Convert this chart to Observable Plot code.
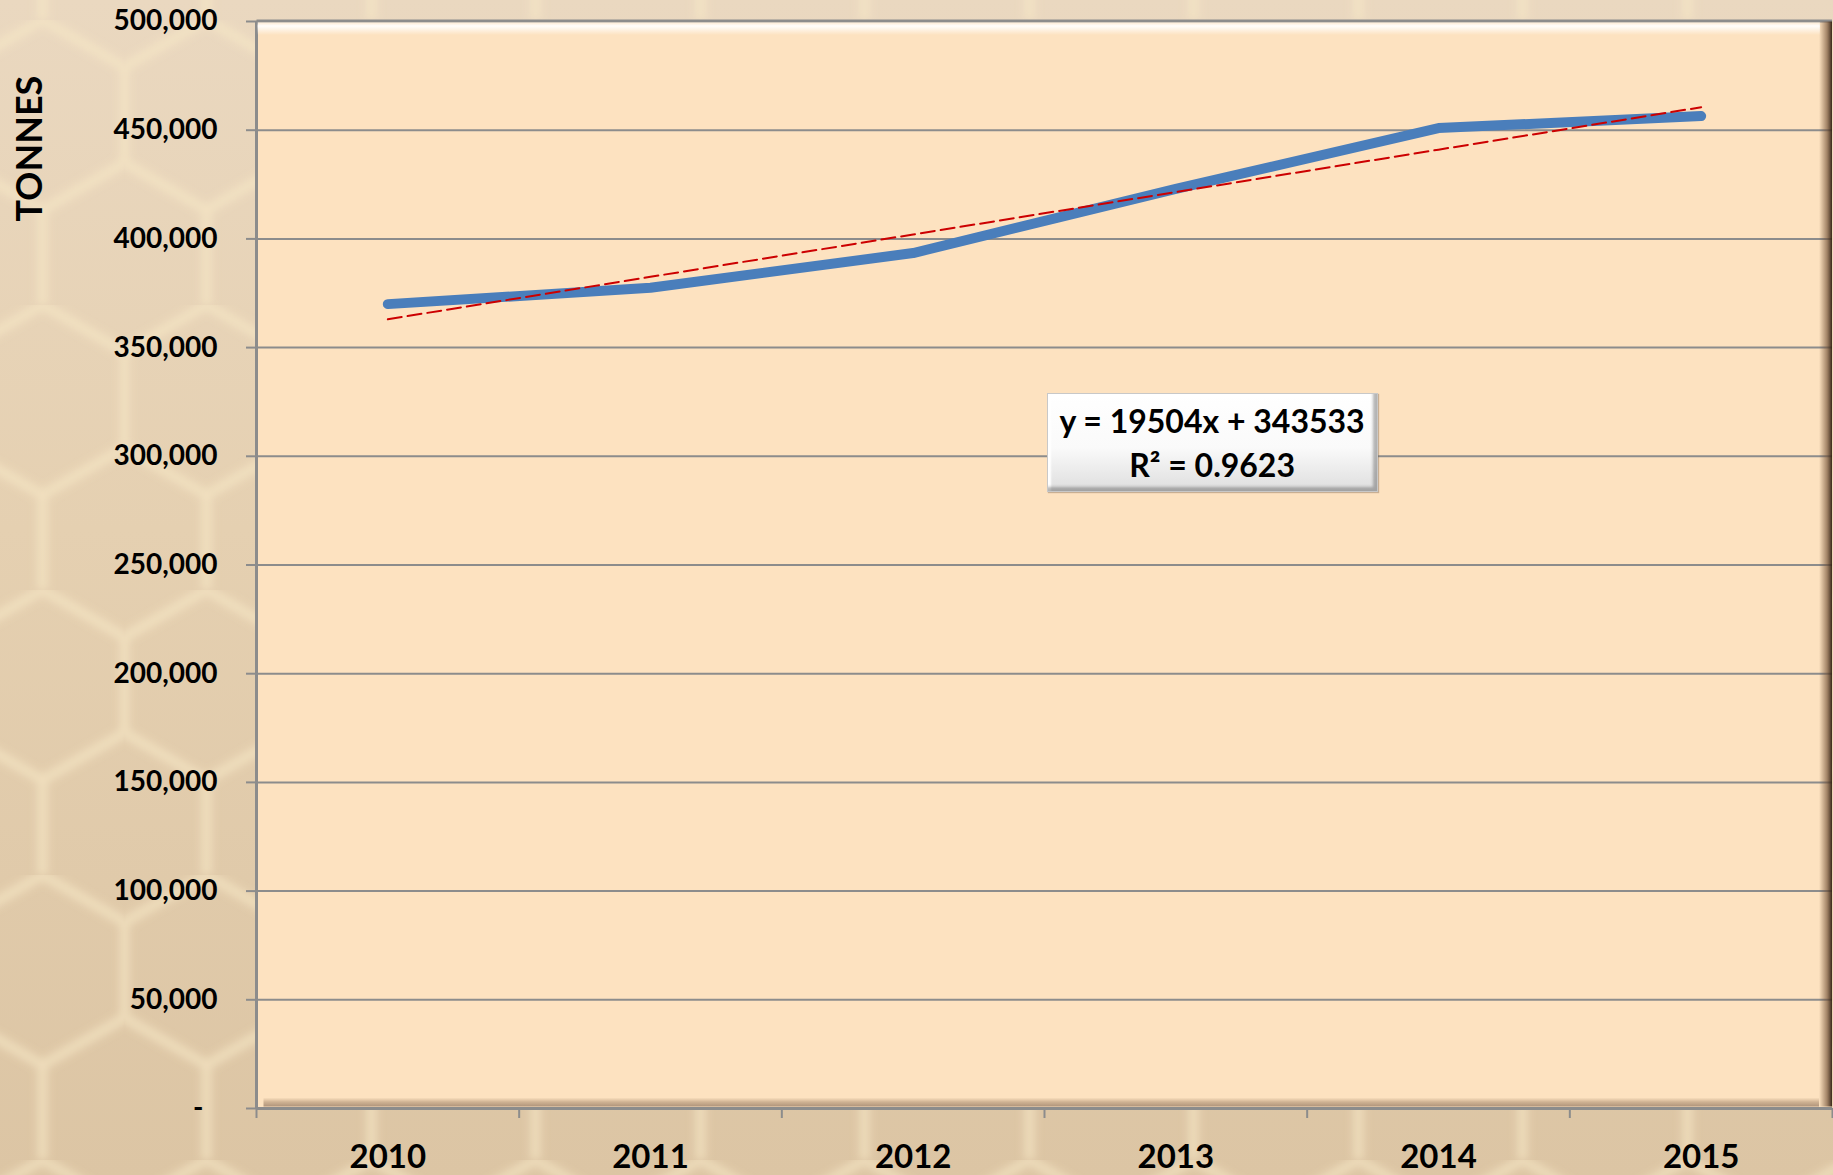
<!DOCTYPE html>
<html>
<head>
<meta charset="utf-8">
<script src="https://cdn.jsdelivr.net/npm/d3@7"></script>
<script src="https://cdn.jsdelivr.net/npm/@observablehq/plot@0.6"></script>
<style>
  html, body { margin: 0; padding: 0; }
  body {
    width: 1833px; height: 1175px; overflow: hidden;
    background-color: #e3cdae;
  }
  #wrap {
    position: relative; width: 1833px; height: 1175px;
    background-image:
      url("data:image/svg+xml;utf8,<svg xmlns='http://www.w3.org/2000/svg' width='164.5' height='285'><defs><filter id='b'><feGaussianBlur stdDeviation='4'/></filter></defs><path d='M82.25,0 L164.5,47.5 L164.5,142.5 L82.25,190 L0,142.5 L0,47.5 Z M82.25,190 L82.25,285' fill='none' stroke='%23f8e8c6' stroke-opacity='0.65' stroke-width='10' filter='url(%23b)'/></svg>"),
      linear-gradient(180deg, #ead8c0 0%, #e5d0b1 45%, #dcc5a4 100%);
    background-position: -40px 20px, 0 0;
    font-family: Lato, "Open Sans", sans-serif;
  }
  #eq {
    position: absolute;
    box-sizing: border-box;
    background: linear-gradient(180deg, #ffffff 0%, #fafafa 55%, #dedede 100%);
    border: 1px solid #c8c8c8;
    box-shadow: inset -4px -4px 3px rgba(90,90,90,0.45), inset 3px 3px 2px rgba(255,255,255,1), 1px 1px 1px rgba(120,100,80,0.4);
    text-align: center;
    font-family: Lato, "Open Sans", sans-serif;
    font-weight: bold;
    font-size: 32px;
    color: #000;
    line-height: 44px;
    padding-top: 5px;
    white-space: nowrap;
  }
</style>
</head>
<body>
<div id="wrap"></div>
<script>
// ---- data ----
const years = ["2010", "2011", "2012", "2013", "2014", "2015"];
const tonnes = [370000, 377500, 393500, 423000, 451000, 456500];
const trendSlope = 19504;
const trendIntercept = 343533;
const rSquared = "0.9623";
const yTicks = [0, 50000, 100000, 150000, 200000, 250000, 300000, 350000, 400000, 450000, 500000];
const yTickLabels = ["-", "50,000", "100,000", "150,000", "200,000", "250,000", "300,000", "350,000", "400,000", "450,000", "500,000"];
const axisTitle = "TONNES";
const eqAnchor = {x: 4.14, y: 306000};

const data = years.map((year, i) => ({
  idx: i + 1,
  year,
  tonnes: tonnes[i],
  trend: trendSlope * (i + 1) + trendIntercept
}));
const centers = data.map(d => d.idx);
const boundaries = [0.5, ...centers.map(c => c + 0.5)];

const gridColor = "#8c8c8c";

const chart = Plot.plot({
  width: 1833,
  height: 1175,
  marginLeft: 256,
  marginRight: 1,
  marginTop: 21,
  marginBottom: 67,
  style: {background: "transparent", fontFamily: "Lato, 'Open Sans', sans-serif", color: "#000", overflow: "visible"},
  x: {domain: [0.5, 6.5]},
  y: {domain: [0, 500000]},
  marks: [
    Plot.frame({fill: "#fde2c0", stroke: null}),
    Plot.gridY(yTicks.filter(d => d > 0), {stroke: gridColor, strokeOpacity: 1, strokeWidth: 2}),
    Plot.axisY(yTicks, {
      tickFormat: d => yTickLabels[yTicks.indexOf(d)] + (d === 0 ? "\u2002" : ""),
      tickSize: 10, tickPadding: 29, fontSize: 28, fontWeight: "bold",
      stroke: gridColor, strokeWidth: 2, fill: "#000", label: null
    }),
    Plot.axisX(boundaries, {tickSize: 10, tickFormat: () => "", stroke: gridColor, strokeWidth: 2, label: null}),
    Plot.axisX(centers, {
      tickSize: 0, tickPadding: 36, tickFormat: i => years[i - 1],
      fontSize: 33, fontWeight: "bold", fill: "#000", label: null
    }),
    Plot.ruleX([0.5], {stroke: gridColor, strokeWidth: 3}),
    Plot.ruleY([0], {stroke: gridColor, strokeWidth: 3}),
    Plot.line(data, {x: "idx", y: "tonnes", stroke: "#4a7ebb", strokeWidth: 10, strokeLinecap: "round", strokeLinejoin: "round"}),
    Plot.line(data, {x: "idx", y: "trend", stroke: "#cc0000", strokeWidth: 2, strokeDasharray: "14,6"}),
    Plot.text([axisTitle], {
      frameAnchor: "top-left", textAnchor: "middle", lineAnchor: "middle",
      rotate: -90, dx: -226, dy: 127, fontSize: 36, fontWeight: "bold", fill: "#000"
    })
  ]
});

const wrap = document.getElementById("wrap");
wrap.appendChild(chart);

// plot-area bevel (Excel-style) built from the scales
const xs = chart.scale("x"), ys = chart.scale("y");
const x0 = xs.apply(0.5) + 1.5, x1 = xs.apply(6.5);
const yTop = ys.apply(500000), yBot = ys.apply(0) - 1.5;
const svg = d3.select(chart);
const defs = svg.insert("defs", ":first-child");
const g1 = defs.append("linearGradient").attr("id", "bvTop").attr("x1", 0).attr("y1", 0).attr("x2", 0).attr("y2", 1);
g1.append("stop").attr("offset", 0).attr("stop-color", "#ffffff").attr("stop-opacity", 0.2);
g1.append("stop").attr("offset", 0.3).attr("stop-color", "#ffffff").attr("stop-opacity", 0.95);
g1.append("stop").attr("offset", 1).attr("stop-color", "#ffffff").attr("stop-opacity", 0);
const g2 = defs.append("linearGradient").attr("id", "bvRight").attr("x1", 0).attr("y1", 0).attr("x2", 1).attr("y2", 0);
g2.append("stop").attr("offset", 0).attr("stop-color", "#6b4a30").attr("stop-opacity", 0);
g2.append("stop").attr("offset", 0.6).attr("stop-color", "#6b4a30").attr("stop-opacity", 0.6);
g2.append("stop").attr("offset", 1).attr("stop-color", "#2e1e12").attr("stop-opacity", 0.95);
const g3 = defs.append("linearGradient").attr("id", "bvBot").attr("x1", 0).attr("y1", 0).attr("x2", 0).attr("y2", 1);
g3.append("stop").attr("offset", 0).attr("stop-color", "#8a6a50").attr("stop-opacity", 0);
g3.append("stop").attr("offset", 0.5).attr("stop-color", "#8a6a50").attr("stop-opacity", 0.4);
g3.append("stop").attr("offset", 1).attr("stop-color", "#6e5240").attr("stop-opacity", 0.55);

const bevel = svg.append("g");
bevel.append("rect").attr("x", x0).attr("y", yTop + 1).attr("width", x1 - x0 - 12).attr("height", 13).attr("fill", "url(#bvTop)");
bevel.append("rect").attr("x", x1 - 13).attr("y", yTop).attr("width", 13).attr("height", yBot - yTop).attr("fill", "url(#bvRight)");
bevel.append("rect").attr("x", x0 + 6).attr("y", yBot - 9).attr("width", x1 - x0 - 19).attr("height", 9).attr("fill", "url(#bvBot)");
bevel.append("line").attr("x1", x0 - 1).attr("x2", x1).attr("y1", yTop - 0.5).attr("y2", yTop - 0.5).attr("stroke", gridColor).attr("stroke-width", 2);

// trendline equation label
const eq = document.createElement("div");
eq.id = "eq";
const boxW = 331, boxH = 99;
eq.style.left = (xs.apply(eqAnchor.x) - boxW / 2) + "px";
eq.style.top = (ys.apply(eqAnchor.y) - boxH / 2) + "px";
eq.style.width = boxW + "px";
eq.style.height = boxH + "px";
eq.innerHTML = `<div>y = ${trendSlope}x + ${trendIntercept}</div><div>R² = ${rSquared}</div>`;
wrap.appendChild(eq);
</script>
</body>
</html>
